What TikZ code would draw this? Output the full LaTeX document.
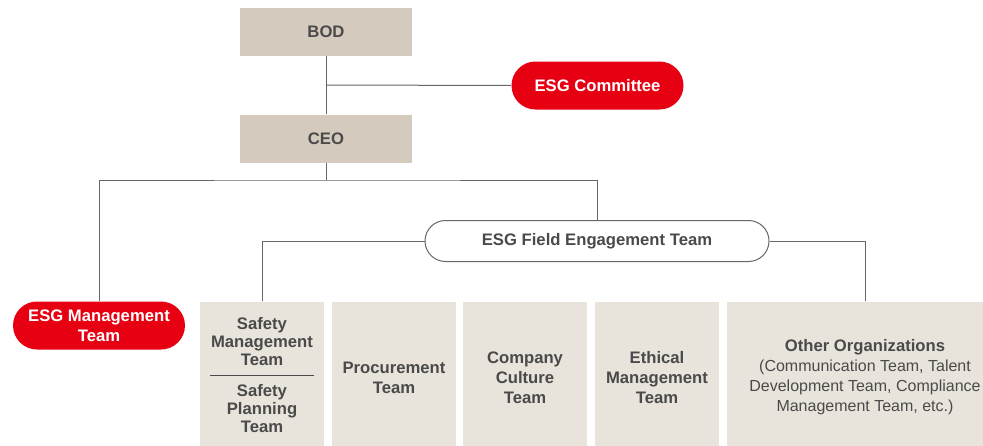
\documentclass[tikz,border=0pt]{standalone}
\usepackage{fontspec}
\setmainfont{Liberation Sans}
\usetikzlibrary{shapes.misc}
\definecolor{boardtan}{HTML}{D5CABE}
\definecolor{teamgray}{HTML}{E8E4DB}
\definecolor{esgred}{HTML}{E60012}
\definecolor{inkgray}{HTML}{4A4A4A}
\definecolor{wiregray}{HTML}{666666}
\tikzset{
  orgnode/.style = {align=center, inner sep=0pt, text centered,
    font=\fontsize{12.5}{15}\selectfont\bfseries, text=inkgray},
  headbox/.style = {orgnode, rectangle, fill=boardtan,
    minimum width=129pt, minimum height=36pt},% BOD / CEO
  redpill/.style = {orgnode, rounded rectangle, fill=esgred, text=white,
    minimum width=129pt, minimum height=36pt},% red ESG units
  fieldpill/.style = {orgnode, rounded rectangle, fill=white, draw=wiregray,
    line width=0.75pt, minimum width=258pt, minimum height=30.75pt},
  teambox/.style = {orgnode, rectangle, fill=teamgray,
    minimum width=93pt, minimum height=114pt},% field teams
  wire/.style = {draw=wiregray, line width=0.75pt}
}

\begin{document}
\begin{tikzpicture}[x=0.75pt,y=-0.75pt]
\clip (0,0) rectangle (983,446);
\fill[white] (0,0) rectangle (983,446);

% top of the chart
\node [headbox] (bod) at (326,31.5) {BOD};
\node [headbox] (ceo) at (326,138.5) {CEO};
\node [redpill] (cmte) at (597.5,85.5) {ESG Committee};
\coordinate (bodsplit) at (326,85);
\coordinate (ceosplit) at (326,180);

% second level
\node [redpill] (mgmt) at (99,325.5) {ESG Management\\Team};
\node [fieldpill] (fet) at (597,241) {ESG Field Engagement Team};

% field teams
\node [teambox] (safety) at (262,377.5) {};
\node [orgnode, font=\fontsize{12.5}{13.5}\selectfont\bfseries] (safetyup) at (262,341.5) {Safety\\Management\\Team};
\node [orgnode, font=\fontsize{12.5}{13.5}\selectfont\bfseries] (safetylow) at (262,408.5) {Safety\\Planning\\Team};
\node [teambox] (proc) at (394,377.5) {Procurement\\Team};
\node [teambox] (culture) at (525,377.5) {Company\\Culture\\Team};
\node [teambox] (ethics) at (657,377.5) {Ethical\\Management\\Team};
\node [teambox, minimum width=207pt] (others) at (865,377.5)
  {Other Organizations\\{\mdseries\fontsize{12}{15}\selectfont (Communication Team, Talent}\\
   {\mdseries\fontsize{12}{15}\selectfont Development Team, Compliance}\\
   {\mdseries\fontsize{12}{15}\selectfont Management Team, etc.)}};

% connectors
\draw [wire] (bod.south) -- (ceo.north);
\draw [wire] (bodsplit) -- (cmte.west);
\draw [wire] (ceo.south) -- (ceosplit);
\draw [wire] (mgmt.north) |- (ceosplit) -| (fet.north);
\draw [wire] (fet.west) -| (safety.north);
\draw [wire] (fet.east) -| (others.north);
\draw [draw=inkgray, line width=0.75pt] (210,375) -- (314,375);
\end{tikzpicture}
\end{document}
